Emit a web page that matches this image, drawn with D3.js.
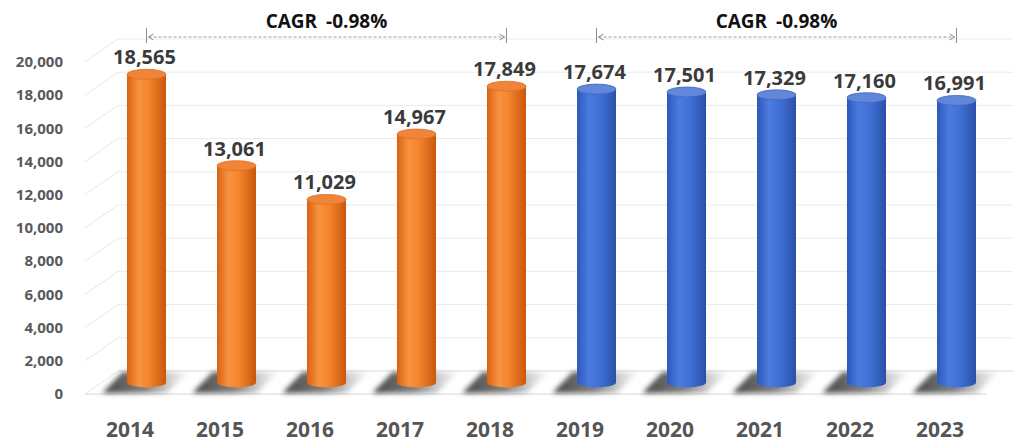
<!DOCTYPE html>
<html>
<head>
<meta charset="utf-8">
<style>
body { margin: 0; background: #fff; }
svg { display: block; font-family: "Open Sans", "Noto Sans", sans-serif; }
.ytick { font-size: 15px; font-weight: 700; fill: #595959; }
.xlab { font-size: 21px; font-weight: 700; fill: #555; }
.vlab { font-size: 20px; font-weight: 700; fill: #3a3a3a; }
.cagr { font-size: 19px; font-weight: 700; fill: #111; word-spacing: 4px; }
</style>
</head>
<body>
<svg id="chart"></svg>
<script src="https://cdnjs.cloudflare.com/ajax/libs/d3/7.8.5/d3.min.js"></script>
<script>
// data
var years = ['2014','2015','2016','2017','2018','2019','2020','2021','2022','2023']
var values = [18565, 13061, 11029, 14967, 17849, 17674, 17501, 17329, 17160, 16991]
var forecastFrom = '2019'
var cagrLabels = ['CAGR -0.98%', 'CAGR -0.98%']
var cagrStart = ['2014', '2019']
var cagrEnd = ['2018', '2023']
var yMax = 20000

var W = 1013, H = 443
var DX = 33, DY = -23   // depth of the 3d box
var svg = d3.select('#chart').attr('width', W).attr('height', H)

var x = d3.scaleBand().domain(years).range([85, 985])
var y = d3.scaleLinear().domain([0, yMax]).range([394, 62])
var ticks = y.ticks(10)

var defs = svg.append('defs')
function grad(id, stops) {
  var g = defs.append('linearGradient').attr('id', id).attr('x1', 0).attr('x2', 1).attr('y1', 0).attr('y2', 0)
  stops.forEach(function(s){ g.append('stop').attr('offset', s[0]).attr('stop-color', s[1]).attr('stop-opacity', s[2] == null ? 1 : s[2]) })
}
grad('orangeBody', [[0,'#d9620f'],[0.3,'#f7923f'],[0.55,'#f5862e'],[1,'#c9570c']])
grad('blueBody', [[0,'#2d58b8'],[0.3,'#4b7bde'],[0.6,'#3f6fd4'],[1,'#2a50a8']])
grad('shadowGrad', [[0,'#2e2e2e',0.9],[0.5,'#555',0.75],[1,'#aaa',0.1]])
defs.append('filter').attr('id', 'blur').attr('x', '-20%').attr('y', '-50%').attr('width', '140%').attr('height', '200%')
  .append('feGaussianBlur').attr('stdDeviation', 2.8)

// walls: side diagonals + back gridlines
var grid = svg.append('g')
grid.selectAll('.back').data(ticks).enter().append('line')
  .attr('x1', 85 + DX).attr('x2', W)
  .attr('y1', function(d){ return y(d) + DY }).attr('y2', function(d){ return y(d) + DY })
  .attr('stroke', function(d){ return d === 0 ? '#dcdcdc' : '#ebebeb' }).attr('stroke-width', 1)
grid.selectAll('.side').data(ticks).enter().append('line')
  .attr('x1', 85).attr('x2', 85 + DX)
  .attr('y1', function(d){ return y(d) }).attr('y2', function(d){ return y(d) + DY })
  .attr('stroke', '#e8e8e8').attr('stroke-width', 1)
grid.append('line').attr('x1', 85).attr('x2', 987).attr('y1', y(0)).attr('y2', y(0))
  .attr('stroke', '#d6d6d6').attr('stroke-width', 1)

// y tick labels
svg.append('g').selectAll('text').data(ticks).enter().append('text')
  .attr('class', 'ytick').attr('x', 63).attr('y', function(d){ return y(d) })
  .attr('dy', '0.35em').attr('text-anchor', 'end')
  .text(d3.format(','))

function cx(d) { return x(d) + x.bandwidth() / 2 + DX / 2 }
var base = y(0) + DY / 2
var rx = 19.5, ry = 5

var data = years.map(function(yr, i){ return { year: yr, value: values[i], fc: yr >= forecastFrom } })

// floor shadows
svg.append('g').selectAll('path').data(data).enter().append('path')
  .attr('d', function(d){
    var c = cx(d.year), b = y(0), t = y(0) + DY
    return 'M' + (c - 44) + ',' + (b - 1) + 'L' + (c + 20) + ',' + (b - 1) +
           'L' + (c + 42) + ',' + (t + 1) + 'L' + (c - 24) + ',' + (t + 1) + 'Z'
  })
  .attr('fill', 'url(#shadowGrad)').attr('filter', 'url(#blur)')

// cylinders
var bars = svg.append('g').selectAll('g').data(data).enter().append('g')
bars.append('ellipse')
  .attr('cx', function(d){ return cx(d.year) }).attr('cy', base).attr('rx', rx).attr('ry', ry)
  .attr('fill', function(d){ return d.fc ? 'url(#blueBody)' : 'url(#orangeBody)' })
bars.append('rect')
  .attr('x', function(d){ return cx(d.year) - rx }).attr('width', rx * 2)
  .attr('y', function(d){ return y(d.value) + DY / 2 })
  .attr('height', function(d){ return base - (y(d.value) + DY / 2) })
  .attr('fill', function(d){ return d.fc ? 'url(#blueBody)' : 'url(#orangeBody)' })
bars.append('ellipse')
  .attr('cx', function(d){ return cx(d.year) }).attr('cy', function(d){ return y(d.value) + DY / 2 })
  .attr('rx', rx).attr('ry', ry)
  .attr('fill', function(d){ return d.fc ? '#6287d8' : '#f0843a' })
  .attr('stroke', function(d){ return d.fc ? '#4068c2' : '#e06e1e' }).attr('stroke-width', 0.8)

// value labels
svg.append('g').selectAll('text').data(data).enter().append('text')
  .attr('class', 'vlab').attr('text-anchor', 'middle')
  .attr('x', function(d){ return cx(d.year) - 2 })
  .attr('y', function(d){ return y(d.value) + DY / 2 - 10 })
  .text(function(d){ return d3.format(',')(d.value) })

// year labels
svg.append('g').selectAll('text').data(years).enter().append('text')
  .attr('class', 'xlab').attr('text-anchor', 'middle')
  .attr('x', function(d){ return x(d) + x.bandwidth() / 2 }).attr('y', 437)
  .text(function(d){ return d })

// CAGR arrows
var ay = 37
cagrLabels.forEach(function(lab, i){
  var x1 = cx(cagrStart[i]), x2 = cx(cagrEnd[i])
  var g = svg.append('g')
  g.append('line').attr('x1', x1 + 2).attr('x2', x2 - 2).attr('y1', ay).attr('y2', ay)
    .attr('stroke', '#9a9a9a').attr('stroke-width', 1).attr('stroke-dasharray', '3,2')
  ;[x1, x2].forEach(function(xx){
    g.append('line').attr('x1', xx).attr('x2', xx).attr('y1', ay - 9).attr('y2', ay + 6)
      .attr('stroke', '#8a8a8a').attr('stroke-width', 1)
  })
  g.append('path').attr('d', 'M' + (x1 + 7) + ',' + (ay - 3) + 'L' + (x1 + 2) + ',' + ay + 'L' + (x1 + 7) + ',' + (ay + 3))
    .attr('fill', 'none').attr('stroke', '#8a8a8a')
  g.append('path').attr('d', 'M' + (x2 - 7) + ',' + (ay - 3) + 'L' + (x2 - 2) + ',' + ay + 'L' + (x2 - 7) + ',' + (ay + 3))
    .attr('fill', 'none').attr('stroke', '#8a8a8a')
  g.append('text').attr('class', 'cagr').attr('text-anchor', 'middle')
    .attr('x', (x1 + x2) / 2).attr('y', 28).text(lab)
})
</script>
</body>
</html>
